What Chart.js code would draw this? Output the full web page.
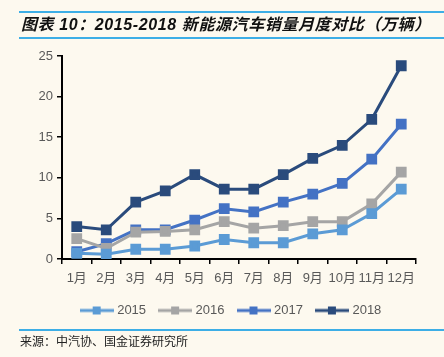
<!DOCTYPE html>
<html><head><meta charset="utf-8">
<script src="https://cdn.jsdelivr.net/npm/chart.js@4/dist/chart.umd.min.js"></script>
<style>
html,body{margin:0;padding:0;background:#FDF9EF;}
#wrap{position:relative;width:444px;height:357px;overflow:hidden;background:#FDF9EF;}
#c{position:absolute;left:0;top:0;}
#title{position:absolute;left:19px;right:0;top:11px;height:24px;border-top:2px solid #3DAEE6;border-bottom:2px solid #3DAEE6;
 font-family:"Liberation Sans","Noto Sans CJK SC",sans-serif;font-weight:bold;font-style:italic;font-size:16px;letter-spacing:0.6px;line-height:24px;color:#111;padding-left:2px;white-space:nowrap;}
#src{position:absolute;left:19px;right:0;top:329px;border-top:2px solid #3DAEE6;font-family:"Noto Sans CJK SC",sans-serif;font-size:12px;color:#222;padding-left:1px;line-height:20px;}
</style></head>
<body><div id="wrap">
<canvas id="c" width="444" height="357"></canvas>
<div id="title">图表 10：2015-2018 新能源汽车销量月度对比（万辆）</div>
<div id="src">来源：中汽协、国金证券研究所</div>
</div>
<script>
const categories = ["1月","2月","3月","4月","5月","6月","7月","8月","9月","10月","11月","12月"];
const seriesNames = ["2015","2016","2017","2018"];
const s2015 = [0.7,0.6,1.2,1.2,1.6,2.4,2.0,2.0,3.1,3.6,5.6,8.6];
const s2016 = [2.5,1.3,3.3,3.4,3.6,4.6,3.8,4.1,4.6,4.6,6.8,10.7];
const s2017 = [0.9,1.9,3.6,3.6,4.8,6.2,5.8,7.0,8.0,9.3,12.3,16.6];
const s2018 = [4.0,3.6,7.0,8.4,10.4,8.6,8.6,10.4,12.4,14.0,17.2,23.8];
const yTicks = [0,5,10,15,20,25];
const colors = ["#5B9BD5","#A5A5A5","#4472C4","#2A4B7C"];
const allSeries = [s2015,s2016,s2017,s2018];

function legendIcon(color){
  const cv=document.createElement('canvas');cv.width=34;cv.height=10;
  const x=cv.getContext('2d');
  x.strokeStyle=color;x.lineWidth=3;x.beginPath();x.moveTo(0,5);x.lineTo(34,5);x.stroke();
  x.fillStyle=color;x.fillRect(13,1,8,8);
  return cv;
}
const icons = colors.map(legendIcon);

const shiftLegend={id:'shiftLegend',afterLayout(chart){ if(chart.legend){chart.legend.left+=48;} }};

const tickFont={family:'"Liberation Sans","Noto Sans CJK SC",sans-serif',size:13};
new Chart(document.getElementById('c'),{
  type:'line',
  data:{labels:categories,datasets:allSeries.map((d,i)=>({
    label:seriesNames[i],data:d,borderColor:colors[i],backgroundColor:colors[i],
    borderWidth:3,pointStyle:'rect',pointRadius:5.5,pointHoverRadius:5.5,tension:0,fill:false
  }))},
  plugins:[shiftLegend],
  options:{
    responsive:false,animation:false,
    layout:{padding:{left:0,right:28,top:56,bottom:30}},
    plugins:{
      tooltip:{enabled:false},
      legend:{position:'bottom',labels:{
        usePointStyle:true,pointStyleWidth:28,boxHeight:10,padding:15,color:'#595959',font:tickFont,
        generateLabels(chart){
          const items=Chart.defaults.plugins.legend.labels.generateLabels(chart);
          items.forEach((it,i)=>{it.pointStyle=icons[i];});
          return items;
        }
      }}
    },
    scales:{
      x:{offset:true,
        grid:{offset:true,drawOnChartArea:false,drawTicks:true,tickLength:5,color:'#000',lineWidth:1.5},
        border:{color:'#000',width:2},
        ticks:{color:'#595959',font:tickFont,maxRotation:0,autoSkip:false,padding:7},
        afterFit(s){s.height=30;}
      },
      y:{min:0,max:25,
        afterBuildTicks(s){s.ticks=yTicks.map(v=>({value:v}));},
        grid:{drawOnChartArea:false,drawTicks:true,tickLength:5,color:'#000',lineWidth:1.5},
        border:{color:'#000',width:2},
        ticks:{color:'#595959',font:tickFont,padding:4},
        afterFit(s){s.width=62;}
      }
    }
  }
});
</script>
</body></html>
